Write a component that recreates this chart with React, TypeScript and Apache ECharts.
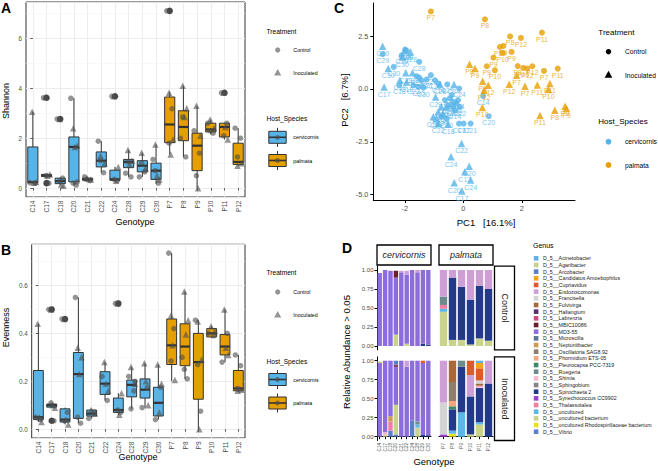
import React, { useEffect, useRef } from "react";
import * as echarts from "echarts";

const FONT = "'Liberation Sans', Arial, Helvetica, sans-serif";

// ---------------- shared ----------------
const genotypes = ["C14", "C17", "C18", "C20", "C21", "C22", "C24", "C28", "C29", "C30", "P7", "P8", "P9", "P10", "P11", "P12"];
const cervGenotypes = ["C14", "C17", "C18", "C20", "C21", "C22", "C24", "C28", "C29", "C30"];
const palmGenotypes = ["P7", "P8", "P9", "P10", "P11", "P12"];
const speciesNames = ["cervicornis", "palmata"];
const speciesColors = ["#56B4E9", "#E69F00"];
const treatments = ["Control", "Inoculated"];

// ---------------- Panel A : Shannon ----------------
// [lower whisker, Q1, median, Q3, upper whisker]
const shannonBox = [
  [0.2, 0.22, 0.24, 1.65, 3.06],
  [0.45, 0.47, 0.5, 0.55, 0.56],
  [0.12, 0.18, 0.28, 0.4, 0.42],
  [0.12, 0.25, 1.65, 2.05, 3.6],
  [0.3, 0.32, 0.35, 0.4, 0.45],
  [0.62, 0.85, 1.1, 1.45, 1.88],
  [0.3, 0.32, 0.35, 0.72, 0.85],
  [0.45, 0.82, 1.05, 1.15, 1.53],
  [0.45, 0.65, 0.9, 1.1, 1.42],
  [0.18, 0.35, 0.7, 1.0, 1.75],
  [1.35, 1.82, 2.55, 3.65, 3.85],
  [1.25, 1.9, 2.45, 3.1, 4.1],
  [0.0, 0.7, 1.7, 2.2, 3.3],
  [2.15, 2.25, 2.35, 2.6, 2.75],
  [1.95, 2.05, 2.45, 2.6, 2.62],
  [0.9, 0.95, 1.05, 1.8, 2.4],
];
const shannonOutliers = [[1, 3.62], [1, 0.2], [2, 2.77], [6, 3.68], [10, 7.1], [14, 3.82]];
const shannonCtrl = [
  [0.22, 0.2], [3.62, 0.2, 0.5], [2.77, 0.4, 0.3], [3.6, 0.12, 0.2, 0.25], [0.45, 0.3, 0.35],
  [1.88, 0.62, 1.1], [3.68, 0.3, 0.35], [0.6, 0.45, 1.05], [0.45, 0.65, 1.0], [1.15, 0.2, 0.7],
  [7.1, 3.18, 1.8], [2.0, 1.25, 2.85], [2.3, 1.4, 0.5], [2.6, 2.2, 2.3], [3.82, 2.6, 2.1], [2.4, 2.0, 1.25],
];
const shannonInoc = [
  [3.06, 0.25, 0.22], [3.65, 0.55, 0.5], [2.77, 0.1, 0.15], [2.4, 1.7, 1.65], [0.4, 0.35],
  [1.3, 1.0], [3.68, 0.85, 0.3], [1.53, 1.1, 0.95], [1.42, 0.8], [1.75, 0.35, 0.5],
  [3.82, 1.95, 1.35], [4.1, 3.2, 2.85], [3.3, 2.1, 0.0], [2.75, 2.4], [3.82, 1.95, 2.45], [0.9, 1.0],
];

// ---------------- Panel B : Evenness ----------------
const evenBox = [
  [0.03, 0.04, 0.05, 0.245, 0.44],
  [0.09, 0.092, 0.1, 0.105, 0.11],
  [0.02, 0.03, 0.04, 0.085, 0.09],
  [0.025, 0.045, 0.23, 0.32, 0.55],
  [0.045, 0.055, 0.065, 0.08, 0.085],
  [0.12, 0.145, 0.19, 0.24, 0.28],
  [0.06, 0.07, 0.08, 0.13, 0.15],
  [0.085, 0.135, 0.185, 0.205, 0.26],
  [0.09, 0.13, 0.165, 0.21, 0.275],
  [0.04, 0.055, 0.11, 0.175, 0.27],
  [0.2, 0.27, 0.35, 0.46, 0.735],
  [0.21, 0.265, 0.345, 0.44, 0.575],
  [0.0, 0.125, 0.28, 0.4, 0.455],
  [0.38, 0.385, 0.4, 0.42, 0.43],
  [0.28, 0.31, 0.345, 0.395, 0.5],
  [0.155, 0.16, 0.17, 0.245, 0.31],
];
const evenOutliers = [[1, 0.5], [1, 0.035], [2, 0.46], [6, 0.525]];
const evenCtrl = [
  [0.05, 0.04], [0.5, 0.035, 0.11], [0.46, 0.07, 0.035], [0.55, 0.025, 0.05], [0.045, 0.07],
  [0.22, 0.12], [0.525, 0.07, 0.08], [0.22, 0.16, 0.085, 0.2], [0.09, 0.175], [0.04, 0.175],
  [0.735, 0.42, 0.285], [0.3, 0.21, 0.25], [0.455, 0.075, 0.27], [0.4, 0.39], [0.28, 0.4], [0.31, 0.265, 0.17],
];
const evenInoc = [
  [0.44, 0.03, 0.05], [0.5, 0.09, 0.1], [0.46, 0.02, 0.04], [0.34, 0.3, 0.23], [0.08, 0.065],
  [0.28, 0.16, 0.19], [0.525, 0.15, 0.06], [0.26, 0.19], [0.275, 0.1, 0.2], [0.27, 0.19, 0.07],
  [0.475, 0.205, 0.35], [0.575, 0.455, 0.395], [0.45, 0.29, 0.0], [0.43, 0.41], [0.5, 0.31, 0.34], [0.16, 0.165],
];
const jitterPattern = [-0.22, 0.17, -0.05, 0.24, 0.07];

// ---------------- Panel C : PCA ----------------
const pcaCervCtrl: [number, number, string][] = [
  [-2.76, 1.64, "C29"], [-2.38, 1.04, "C30"], [-1.99, 1.86, "C28"], [-1.94, 1.8, "C29"], [-2.11, 1.59, "C30"],
  [-1.51, 1.28, "C28"], [-2.19, 0.17, "C18"], [-1.71, 0.17, "C22"], [-1.54, 0.09, "C30"], [-1.37, 0.06, "C30"],
  [-1.6, 0.6, "C29"], [-1.51, 0.54, "C22"], [-1.43, 0.41, "C28"], [-1.11, 0.65, "C22"], [-0.97, 0.41, "C28"],
  [-0.55, 0.21, "C29"], [-0.14, 0.02, "C24"], [-0.63, -0.53, "C28"], [-0.46, -0.45, "C22"], [-0.35, -0.61, "C22"],
  [-0.24, -0.69, "C22"], [-0.52, -0.77, "C29"], [-0.35, -0.85, "C28"], [-0.18, -0.53, "C24"], [-0.4, -0.3, "C21"],
  [-0.57, -0.93, "C29"], [-0.29, -1.01, "C14"], [-0.12, -0.85, "C22"], [-0.75, -1.32, "C30"], [-0.57, -1.4, "C30"],
  [-0.15, -1.64, "C17"], [0.01, -1.64, "C17"], [0.25, -1.64, "C21"], [0.87, -1.29, "C20"], [0.68, -0.34, "C14"],
  [-1.25, 0.45, "C21"], [-0.85, 0.25, "C14"],
];
const pcaCervInoc: [number, number, string][] = [
  [-2.76, 2.02, "C20"], [-2.57, 0.96, "C30"], [-2.71, 0.09, "C17"], [-2.01, 1.83, "C28"], [-1.81, 1.75, "C28"],
  [-2.08, 1.51, "C30"], [-1.97, 0.76, "C29"], [-1.74, 0.76, "C29"], [-2.17, 0.41, "C18"], [-1.94, 0.33, "C18"],
  [-0.32, 0.21, "C24"], [-0.8, 0.22, "C28"], [-0.95, -0.38, "C29"], [-0.75, -0.85, "C30"], [-0.86, -1.08, "C30"],
  [-0.69, -1.16, "C18"], [-1.03, -1.32, "C28"], [-0.92, -1.4, "C21"], [-0.86, -1.64, "C22"], [-0.52, -1.67, "C18"],
  [-0.06, -2.58, "C22"], [-0.42, -3.21, "C24"], [0.2, -3.65, "C20"], [0.05, -3.92, "C17"], [0.25, -4.31, "C24"],
  [-0.31, -4.44, "C20"], [-0.05, -4.82, "C17"],
];
const pcaPalmCtrl: [number, number, string][] = [
  [-1.11, 3.66, "P7"], [0.74, 3.29, "P8"], [1.6, 2.48, "P8"], [1.97, 2.41, "P12"], [2.69, 2.66, "P11"],
  [1.25, 1.98, "P10"], [1.37, 2.03, "P9"], [1.34, 1.7, "P10"], [1.65, 1.75, "P9"], [1.03, 1.48, "P9"],
  [0.8, 1.07, "P9"], [1.08, 0.88, "P10"], [1.86, 1.08, "P8"], [2.05, 0.99, "P10"], [2.19, 0.96, "P12"],
  [2.36, 1.07, "P12"], [2.76, 0.85, "P7"], [3.23, 0.96, "P11"],
];
const pcaPalmInoc: [number, number, string][] = [
  [0.21, 1.16, "P8"], [0.4, 0.96, "P9"], [0.66, 0.36, "P9"], [0.85, 0.17, "P12"], [0.71, -0.06, "P12"],
  [0.65, -0.88, "P10"], [1.57, 0.22, "P12"], [1.82, 0.64, "P7"], [2.11, 0.13, "P7"], [2.53, 0.19, "P11"],
  [2.96, 0.25, "P11"], [2.91, -0.03, "P10"], [2.62, -1.26, "P11"], [3.13, -1.01, "P8"], [3.48, -0.82, "P9"],
  [3.53, -0.93, "P9"],
];
const pc1Ticks = [-2, 0, 2];
const pc2Ticks = [-5, -2.5, 0, 2.5];

// ---------------- Panel D : relative abundance ----------------
const genera = [
  "Acinetobacter", "Agaribacter", "Arcobacter", "Candidatus Amoebophilus", "Cupriavidus", "Endozoicomonas",
  "Francisella", "Fulvivirga", "Haliangium", "Labrenzia", "MBIC10086", "MD3-55", "Microscilla", "Neptuniibacter",
  "Oscillatoria SAG8.92", "Phormidium ETS-05", "Pleurocapsa PCC-7319", "Ruegeria", "Shimia", "Sphingobium",
  "Spirochaeta 2", "Synechococcus CC9902", "Thalassotalea", "uncultured", "uncultured bacterium",
  "uncultured Rhodospirillaceae bacterium", "Vibrio",
];
const genusColors = [
  "#5BB4E5", "#C6D18B", "#5A7FC8", "#F7A21B", "#E2582A", "#CE9FD4", "#D3D3D3", "#A8683A", "#5A2D6E",
  "#D6467E", "#6A1D2B", "#8C6DDB", "#5F7491", "#CC9B4E", "#8E7E6A", "#F6A47E", "#3D8A69", "#6C8B8B",
  "#F5B9CB", "#8A8585", "#233A8A", "#9A3FCF", "#F47EA3", "#5AB8E8", "#C9D38B", "#E8E21E", "#5B7FC9",
];
const ctrlCerv: [string, number][][] = [
  [["MD3-55", 0.96]],
  [["MD3-55", 1.0]],
  [["MD3-55", 0.99]],
  [["uncultured bacterium", 0.15], ["MD3-55", 0.75], ["MBIC10086", 0.09]],
  [["MD3-55", 0.97], ["Endozoicomonas", 0.02]],
  [["uncultured bacterium", 0.03], ["MD3-55", 0.91], ["Endozoicomonas", 0.05]],
  [["MD3-55", 1.0]],
  [["MD3-55", 0.97], ["Endozoicomonas", 0.03]],
  [["Spirochaeta 2", 0.03], ["MD3-55", 0.97]],
  [["Spirochaeta 2", 0.02], ["MD3-55", 0.98]],
];
const ctrlPalm: [string, number][][] = [
  [["uncultured bacterium", 0.45], ["uncultured", 0.04], ["Thalassotalea", 0.05], ["Ruegeria", 0.11], ["Endozoicomonas", 0.35]],
  [["uncultured bacterium", 0.08], ["Spirochaeta 2", 0.82], ["Endozoicomonas", 0.1]],
  [["uncultured bacterium", 0.08], ["Spirochaeta 2", 0.7], ["Endozoicomonas", 0.22]],
  [["uncultured bacterium", 0.02], ["Spirochaeta 2", 0.59], ["Endozoicomonas", 0.39]],
  [["uncultured bacterium", 0.1], ["Spirochaeta 2", 0.69], ["Endozoicomonas", 0.21]],
  [["uncultured bacterium", 0.07], ["Spirochaeta 2", 0.68], ["Endozoicomonas", 0.25]],
];
const inocCerv: [string, number][][] = [
  [["MD3-55", 0.97], ["Agaribacter", 0.02]],
  [["uncultured bacterium", 0.02], ["Shimia", 0.04], ["MD3-55", 0.94]],
  [["Vibrio", 0.08], ["Thalassotalea", 0.12], ["Neptuniibacter", 0.07], ["MD3-55", 0.73]],
  [["Vibrio", 0.03], ["uncultured bacterium", 0.39], ["MD3-55", 0.5], ["MBIC10086", 0.02], ["Haliangium", 0.01], ["Arcobacter", 0.05]],
  [["MD3-55", 1.0]],
  [["MD3-55", 0.92], ["Endozoicomonas", 0.08]],
  [["Vibrio", 0.21], ["MD3-55", 0.79]],
  [["uncultured bacterium", 0.12], ["uncultured", 0.04], ["Ruegeria", 0.04], ["MD3-55", 0.8]],
  [["Spirochaeta 2", 0.03], ["MD3-55", 0.94], ["Cupriavidus", 0.03]],
  [["Spirochaeta 2", 0.02], ["MD3-55", 0.98]],
];
const inocPalm: [string, number][][] = [
  [["Synechococcus CC9902", 0.03], ["Francisella", 0.42], ["Endozoicomonas", 0.55]],
  [["uncultured Rhodospirillaceae bacterium", 0.04], ["uncultured", 0.04], ["Spirochaeta 2", 0.28], ["Pleurocapsa PCC-7319", 0.04], ["Phormidium ETS-05", 0.07], ["Oscillatoria SAG8.92", 0.25], ["Fulvivirga", 0.28]],
  [["uncultured", 0.32], ["Spirochaeta 2", 0.6], ["Ruegeria", 0.08]],
  [["uncultured bacterium", 0.03], ["Spirochaeta 2", 0.5], ["Endozoicomonas", 0.28], ["Cupriavidus", 0.19]],
  [["uncultured bacterium", 0.16], ["uncultured", 0.03], ["Spirochaeta 2", 0.45], ["Fulvivirga", 0.03], ["Shimia", 0.03], ["Francisella", 0.04], ["Cupriavidus", 0.16], ["Candidatus Amoebophilus", 0.07], ["Acinetobacter", 0.03]],
  [["Spirochaeta 2", 0.7], ["Endozoicomonas", 0.3]],
];
const abundTicks = [0, 0.25, 0.5, 0.75, 1];

// ---------------- helpers ----------------
const speciesOf = (g: string) => (g.startsWith("C") ? 0 : 1);

function txt(x: number, y: number, text: string, size: number, extra: any = {}) {
  const align = extra.align || "left";
  return {
    type: "text",
    x,
    y,
    rotation: extra.rotation || 0,
    silent: true,
    style: {
      text,
      fill: extra.fill || "#000000",
      fontSize: size,
      fontFamily: FONT,
      fontStyle: extra.fontStyle || "normal",
      fontWeight: extra.fontWeight || "normal",
      align,
      textAlign: align,
      verticalAlign: "middle",
      textVerticalAlign: "middle",
    },
  };
}

function boxSeries(data: number[][], xAxisIndex: number, yAxisIndex: number) {
  return {
    type: "custom",
    xAxisIndex,
    yAxisIndex,
    data: data.map((b, i) => [i, ...b]),
    encode: { x: 0, y: [1, 2, 3, 4, 5] },
    z: 2,
    renderItem: (_p: any, api: any) => {
      const i = api.value(0);
      const lo = api.coord([i, api.value(1)]);
      const q1 = api.coord([i, api.value(2)]);
      const med = api.coord([i, api.value(3)]);
      const q3 = api.coord([i, api.value(4)]);
      const hi = api.coord([i, api.value(5)]);
      const w = api.size([1, 0])[0] * 0.74;
      const cx = med[0];
      const fill = speciesColors[speciesOf(genotypes[i])];
      const stroke = "#333333";
      return {
        type: "group",
        children: [
          { type: "line", shape: { x1: cx, y1: hi[1], x2: cx, y2: q3[1] }, style: { stroke, lineWidth: 1 } },
          { type: "line", shape: { x1: cx, y1: q1[1], x2: cx, y2: lo[1] }, style: { stroke, lineWidth: 1 } },
          { type: "rect", shape: { x: cx - w / 2, y: q3[1], width: w, height: q1[1] - q3[1] }, style: { fill, stroke, lineWidth: 1 } },
          { type: "line", shape: { x1: cx - w / 2, y1: med[1], x2: cx + w / 2, y2: med[1] }, style: { stroke, lineWidth: 2.2 } },
        ],
      };
    },
  };
}

function jitterData(vals: number[][], shift: number) {
  const out: number[][] = [];
  vals.forEach((arr, g) => arr.forEach((v, k) => out.push([g + jitterPattern[(k + shift) % jitterPattern.length], v])));
  return out;
}

function pointSeries(vals: number[][], shift: number, symbol: string, size: number, xAxisIndex: number, yAxisIndex: number) {
  return {
    type: "scatter",
    xAxisIndex,
    yAxisIndex,
    symbol,
    symbolSize: size,
    data: jitterData(vals, shift),
    itemStyle: { color: "#4D4D4D", opacity: 0.6 },
    z: 4,
    silent: true,
  };
}

function outlierSeries(vals: number[][], xAxisIndex: number, yAxisIndex: number) {
  return {
    type: "scatter",
    xAxisIndex,
    yAxisIndex,
    symbol: "circle",
    symbolSize: 6.5,
    data: vals,
    itemStyle: { color: "#1A1A1A" },
    z: 3,
    silent: true,
  };
}

function pcaSeries(data: [number, number, string][], symbol: string, size: number, color: string) {
  return {
    type: "scatter",
    xAxisIndex: 4,
    yAxisIndex: 2,
    symbol,
    symbolSize: size,
    data,
    encode: { x: 0, y: 1 },
    itemStyle: { color },
    silent: true,
    label: {
      show: true,
      position: "bottom",
      distance: 0,
      formatter: (p: any) => p.value[2],
      color,
      fontSize: 7,
      fontFamily: FONT,
    },
    labelLayout: { hideOverlap: false },
  };
}

function stackSeries(bars: [string, number][][], axisIndex: number, stack: string) {
  const out: any[] = [];
  for (let gi = genera.length - 1; gi >= 0; gi--) {
    const name = genera[gi];
    const vals = bars.map((b) => {
      const seg = b.find((s) => s[0] === name);
      return seg ? seg[1] : 0;
    });
    if (vals.every((v) => v === 0)) continue;
    out.push({
      type: "bar",
      name: "D_5__" + name,
      xAxisIndex: axisIndex,
      yAxisIndex: axisIndex - 2,
      stack,
      barWidth: "82%",
      data: vals,
      itemStyle: { color: genusColors[gi] },
      silent: true,
    });
  }
  return out;
}

const gridLineColor = "#EBEBEB";

function bwCatAxis(gridIndex: number) {
  return {
    type: "category",
    gridIndex,
    data: genotypes,
    boundaryGap: true,
    axisLine: { show: false },
    axisTick: { show: true, alignWithLabel: true, length: 2.5, lineStyle: { color: "#333333", width: 0.8 } },
    axisLabel: { interval: 0, rotate: 90, fontSize: 6.5, color: "#4D4D4D", fontFamily: FONT, margin: 3.5 },
    splitLine: { show: true, alignWithLabel: true, lineStyle: { color: gridLineColor, width: 0.9 } },
  };
}

function hiddenValAxis(gridIndex: number) {
  return { type: "value", gridIndex, min: -0.5, max: 15.5, show: false, splitLine: { show: false } };
}

function bwValAxis(gridIndex: number, min: number, max: number, digits: number) {
  return {
    type: "value",
    gridIndex,
    min,
    max,
    axisLine: { show: false },
    axisTick: { show: true, length: 2.5, lineStyle: { color: "#333333", width: 0.8 } },
    axisLabel: {
      fontSize: 6.3,
      color: "#4D4D4D",
      fontFamily: FONT,
      margin: 4,
      showMinLabel: false,
      showMaxLabel: false,
      formatter: (v: number) => v.toFixed(digits),
    },
    splitLine: { show: true, lineStyle: { color: gridLineColor, width: 0.9 } },
    minorTick: { show: false, splitNumber: 2 },
    minorSplitLine: { show: true, lineStyle: { color: "#F3F3F3", width: 0.6 } },
  };
}

// D grids geometry
const dCervLeft = 377;
const dPalmLeft = 439;
const dPanelW = 54;
const dTopTop = 266.2;
const dBotTop = 356.9;
const dPanelH = 83.6;

function dXAxis(gridIndex: number, cats: string[], showLabels: boolean) {
  return {
    type: "category",
    gridIndex,
    data: cats,
    boundaryGap: true,
    axisLine: { show: showLabels, lineStyle: { color: "#000000", width: 1 } },
    axisTick: { show: showLabels, alignWithLabel: true, length: 2.5, lineStyle: { color: "#000000", width: 1 } },
    axisLabel: { show: showLabels, interval: 0, rotate: 90, fontSize: 4.6, color: "#4D4D4D", fontFamily: FONT, margin: 2.5 },
    splitLine: { show: false },
  };
}

function dYAxis(gridIndex: number, showAxis: boolean) {
  return {
    type: "value",
    gridIndex,
    min: -0.05,
    max: 1.05,
    axisLine: { show: showAxis, lineStyle: { color: "#000000", width: 1 } },
    axisTick: { show: showAxis, customValues: abundTicks, length: 2.5, lineStyle: { color: "#000000", width: 1 } },
    axisLabel: {
      show: showAxis,
      customValues: abundTicks,
      formatter: (v: number) => v.toFixed(2),
      fontSize: 6,
      color: "#4D4D4D",
      fontFamily: FONT,
      margin: 3.5,
    },
    splitLine: { show: false },
  };
}

function boxLegend(cx: number, cy: number, color: string) {
  return [
    { type: "line", shape: { x1: cx, y1: cy - 9.5, x2: cx, y2: cy + 9.5 }, style: { stroke: "#333333", lineWidth: 1 }, silent: true },
    { type: "rect", shape: { x: cx - 8.7, y: cy - 6, width: 17.4, height: 12 }, style: { fill: color, stroke: "#333333", lineWidth: 1 }, silent: true },
    { type: "line", shape: { x1: cx - 8.7, y1: cy, x2: cx + 8.7, y2: cy }, style: { stroke: "#333333", lineWidth: 1.6 }, silent: true },
    { type: "circle", shape: { cx, cy, r: 2.5 }, style: { fill: "#4D4D4D", opacity: 0.6 }, silent: true },
  ];
}

function triPoints(cx: number, cy: number, s: number) {
  return [[cx, cy - s * 0.6], [cx + s * 0.55, cy + s * 0.4], [cx - s * 0.55, cy + s * 0.4]];
}

function abLegend(yTreat: number, yCtrl: number, yInoc: number, yHost: number, yCerv: number, yPalm: number) {
  return [
    txt(266.5, yTreat, "Treatment", 6.6),
    { type: "circle", shape: { cx: 277.7, cy: yCtrl, r: 2.6 }, style: { fill: "#4D4D4D", opacity: 0.6 }, silent: true },
    txt(293.3, yCtrl, treatments[0], 5.3),
    { type: "polygon", shape: { points: triPoints(277.7, yInoc, 6.5) }, style: { fill: "#4D4D4D", opacity: 0.6 }, silent: true },
    txt(293.3, yInoc, treatments[1], 5.3),
    txt(266.5, yHost, "Host_Species", 6.6),
    ...boxLegend(277.5, yCerv, speciesColors[0]),
    txt(293.3, yCerv, speciesNames[0], 5.3),
    ...boxLegend(277.5, yPalm, speciesColors[1]),
    txt(293.3, yPalm, speciesNames[1], 5.3),
  ];
}

function strip(x: number, y: number, w: number, h: number, label: string, vertical: boolean, italic: boolean) {
  return [
    { type: "rect", shape: { x, y, width: w, height: h }, style: { fill: "#FFFFFF", stroke: "#000000", lineWidth: 1.3 }, silent: true },
    txt(x + w / 2, y + h / 2, label, 9, {
      align: "center",
      rotation: vertical ? -Math.PI / 2 : 0,
      fontStyle: italic ? "italic" : "normal",
      fill: "#1A1A1A",
    }),
  ];
}

export default function App() {
  const ref = useRef<HTMLDivElement>(null);
  useEffect(() => {
    if (!ref.current) return;
    const chart = echarts.init(ref.current, null, { renderer: "svg" });

    const genusLegend: any[] = [txt(533, 245, "Genus", 7)];
    genera.forEach((g, i) => {
      const cy = 258.3 + i * 6.67;
      genusLegend.push({ type: "rect", shape: { x: 533.8, y: cy - 2.3, width: 4.6, height: 4.6 }, style: { fill: genusColors[i] }, silent: true });
      genusLegend.push(txt(543, cy, "D_5__" + g, 5.3, { fill: "#1A1A1A" }));
    });

    const option: any = {
      animation: false,
      backgroundColor: "#FFFFFF",
      textStyle: { fontFamily: FONT },
      grid: [
        { left: 26, top: 2, width: 219, height: 195, show: true, borderColor: "#333333", borderWidth: 1, backgroundColor: "transparent" },
        { left: 31.7, top: 244.3, width: 213.3, height: 193.7, show: true, borderColor: "#333333", borderWidth: 1, backgroundColor: "transparent" },
        { left: 373.3, top: 3, width: 201.7, height: 197 },
        { left: dCervLeft, top: dTopTop, width: dPanelW, height: dPanelH },
        { left: dPalmLeft, top: dTopTop, width: dPanelW, height: dPanelH },
        { left: dCervLeft, top: dBotTop, width: dPanelW, height: dPanelH },
        { left: dPalmLeft, top: dBotTop, width: dPanelW, height: dPanelH },
      ],
      xAxis: [
        bwCatAxis(0),
        hiddenValAxis(0),
        bwCatAxis(1),
        hiddenValAxis(1),
        {
          type: "value",
          gridIndex: 2,
          min: -3.08,
          max: 3.82,
          axisLine: { show: true, onZero: false, lineStyle: { color: "#000000", width: 1 } },
          axisTick: { show: true, customValues: pc1Ticks, length: 3, lineStyle: { color: "#000000", width: 1 } },
          axisLabel: { customValues: pc1Ticks, fontSize: 7.3, color: "#4D4D4D", fontFamily: FONT, margin: 5 },
          splitLine: { show: false },
        },
        dXAxis(3, cervGenotypes, false),
        dXAxis(4, palmGenotypes, false),
        dXAxis(5, cervGenotypes, true),
        dXAxis(6, palmGenotypes, true),
      ],
      yAxis: [
        bwValAxis(0, -0.355, 7.455, 0),
        bwValAxis(1, -0.0368, 0.7718, 1),
        {
          type: "value",
          gridIndex: 2,
          min: -5.25,
          max: 4.06,
          axisLine: { show: true, onZero: false, lineStyle: { color: "#000000", width: 1 } },
          axisTick: { show: true, customValues: pc2Ticks, length: 3, lineStyle: { color: "#000000", width: 1 } },
          axisLabel: { customValues: pc2Ticks, formatter: (v: number) => v.toFixed(1), fontSize: 7.3, color: "#4D4D4D", fontFamily: FONT, margin: 5 },
          splitLine: { show: false },
        },
        dYAxis(3, true),
        dYAxis(4, false),
        dYAxis(5, true),
        dYAxis(6, false),
      ],
      series: [
        boxSeries(shannonBox, 0, 0),
        outlierSeries(shannonOutliers, 1, 0),
        pointSeries(shannonCtrl, 0, "circle", 5.5, 1, 0),
        pointSeries(shannonInoc, 2, "triangle", 6.5, 1, 0),
        boxSeries(evenBox, 2, 1),
        outlierSeries(evenOutliers, 3, 1),
        pointSeries(evenCtrl, 0, "circle", 5.5, 3, 1),
        pointSeries(evenInoc, 2, "triangle", 6.5, 3, 1),
        pcaSeries(pcaCervCtrl, "circle", 6, speciesColors[0]),
        pcaSeries(pcaCervInoc, "triangle", 7.5, speciesColors[0]),
        pcaSeries(pcaPalmCtrl, "circle", 6, speciesColors[1]),
        pcaSeries(pcaPalmInoc, "triangle", 7.5, speciesColors[1]),
        ...stackSeries(ctrlCerv, 5, "cc"),
        ...stackSeries(ctrlPalm, 6, "cp"),
        ...stackSeries(inocCerv, 7, "ic"),
        ...stackSeries(inocPalm, 8, "ip"),
      ],
      graphic: [
        // panel letters
        txt(1, 8, "A", 14, { fontWeight: "bold" }),
        txt(1, 250, "B", 14, { fontWeight: "bold" }),
        txt(334, 8, "C", 14, { fontWeight: "bold" }),
        txt(342, 248, "D", 14, { fontWeight: "bold" }),
        // axis titles
        txt(6, 101, "Shannon", 9, { align: "center", rotation: Math.PI / 2 }),
        txt(135, 222, "Genotype", 9, { align: "center" }),
        txt(6, 327.5, "Evenness", 9, { align: "center", rotation: Math.PI / 2 }),
        txt(138, 457, "Genotype", 9, { align: "center" }),
        txt(486, 222, "PC1   [16.1%]", 9.5, { align: "center" }),
        txt(344, 100, "PC2   [6.7%]", 9.5, { align: "center", rotation: Math.PI / 2 }),
        txt(346, 352, "Relative Abundance > 0.05", 9.5, { align: "center", rotation: Math.PI / 2 }),
        txt(434, 461, "Genotype", 9.5, { align: "center" }),
        // A/B legends
        ...abLegend(31, 50, 73, 118.3, 137.3, 160.5),
        ...abLegend(272.7, 292, 315, 361, 379.5, 403),
        // C legend
        txt(598.3, 32.3, "Treatment", 8),
        { type: "circle", shape: { cx: 608.5, cy: 51.7, r: 2.7 }, style: { fill: "#000000" }, silent: true },
        txt(625, 51.7, treatments[0], 6.7),
        { type: "polygon", shape: { points: triPoints(608.5, 75, 7) }, style: { fill: "#000000" }, silent: true },
        txt(625, 75, treatments[1], 6.7),
        txt(598.3, 121.7, "Host_Species", 8),
        { type: "circle", shape: { cx: 608.5, cy: 141.7, r: 2.9 }, style: { fill: speciesColors[0] }, silent: true },
        txt(625, 141.7, speciesNames[0], 6.7),
        { type: "circle", shape: { cx: 608.5, cy: 165, r: 2.9 }, style: { fill: speciesColors[1] }, silent: true },
        txt(625, 165, speciesNames[1], 6.7),
        // D strips
        ...strip(dCervLeft, 245, dPanelW, 20, speciesNames[0], false, true),
        ...strip(dPalmLeft, 245, dPanelW, 20, speciesNames[1], false, true),
        ...strip(494.5, dTopTop, 20, dPanelH, treatments[0], true, false),
        ...strip(494.5, dBotTop, 20, dPanelH, treatments[1], true, false),
        // D legend
        ...genusLegend,
      ],
    };
    chart.setOption(option);
    return () => chart.dispose();
  }, []);
  return <div ref={ref} style={{ position: "absolute", left: 0, top: 0, width: 658, height: 471 }} />;
}
